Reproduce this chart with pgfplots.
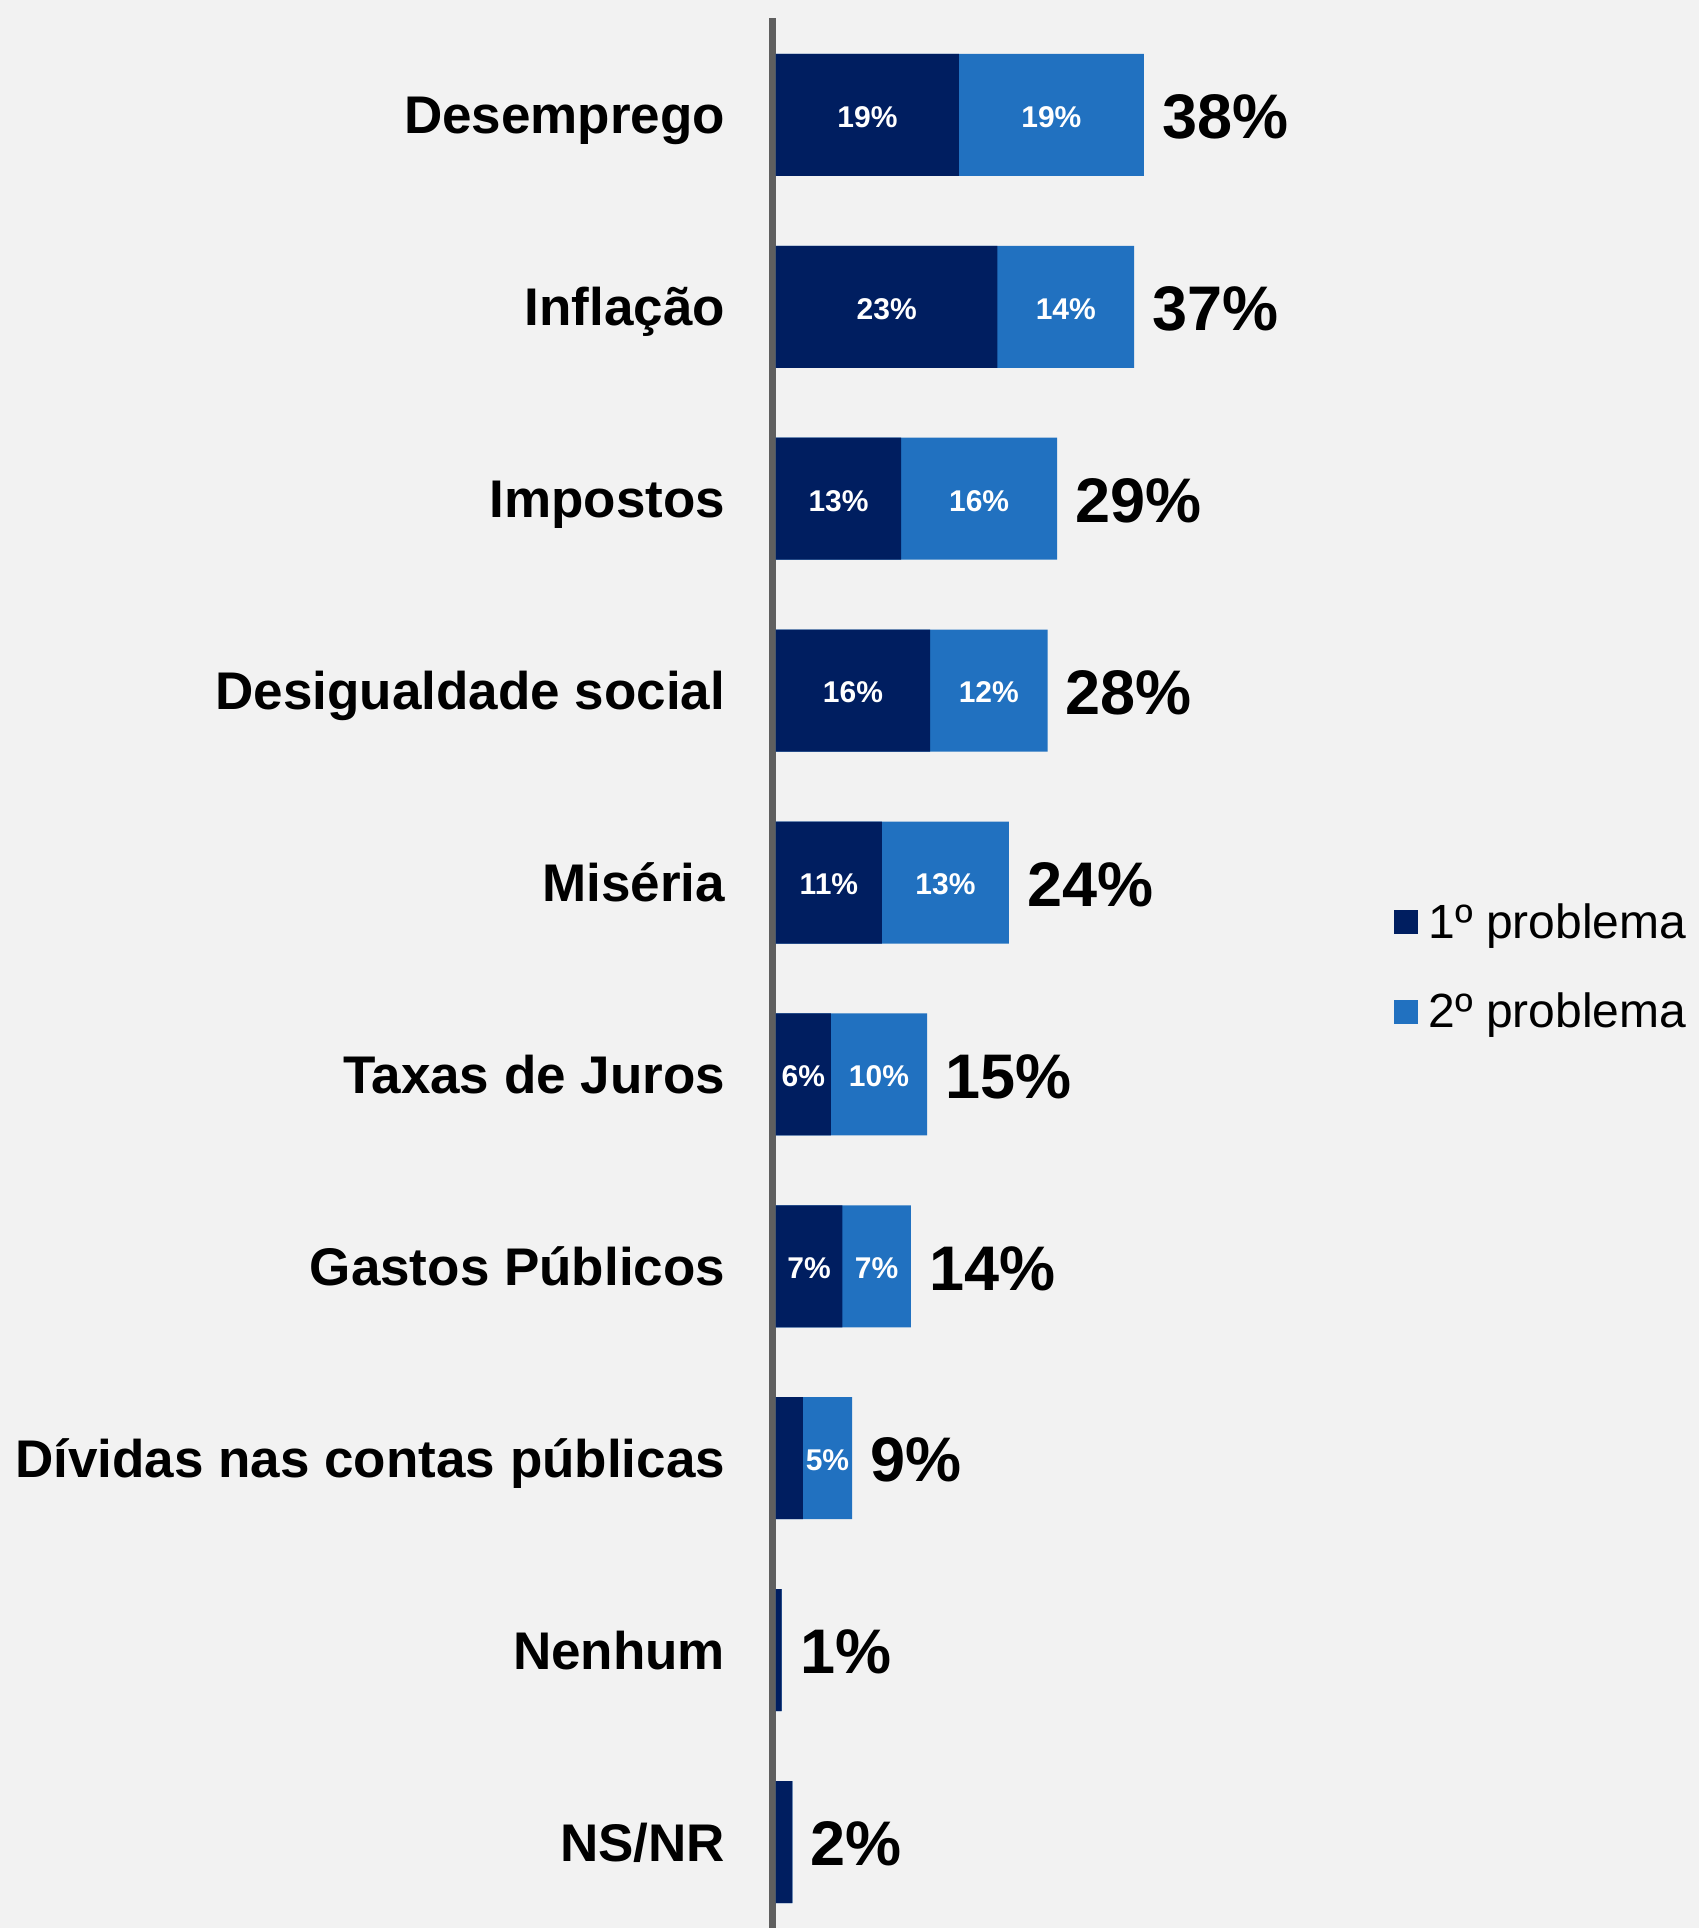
\documentclass[border=0pt]{standalone}
\usepackage{pgfplots}
\pgfplotsset{compat=1.18}
\usepackage{pgfplotstable}
\usepackage{fontspec}
\setmainfont{Liberation Sans}
\usetikzlibrary{backgrounds}
\definecolor{dark}{HTML}{001E60}
\definecolor{light}{HTML}{2171C0}
\definecolor{axgray}{HTML}{5F5F5F}
\definecolor{bgc}{HTML}{F2F2F2}

\pgfplotstableread{
idx v1  v2   l1 l2 tl
0   19  19.2 19 19 38
1   23  14.2 23 14 37
2   13  16.2 13 16 29
3   16  12.2 16 12 28
4   11  13.2 11 13 24
5   5.7 10.0 6  10 15
6   6.9 7.1  7  7  14
7   2.8 5.1  0  5  9
8   0.6 0    0  0  1
9   1.7 0    0  0  2
}\data

\begin{document}
\begin{tikzpicture}
\begin{axis}[
  name=ax,
  scale only axis,
  width=463.25pt, height=955pt,
  xmin=-0.36, xmax=95.85,
  ymin=-0.505, ymax=9.448,
  y dir=reverse,
  hide x axis,
  axis y line*=left,
  y axis line style={draw=axgray, line width=3.6pt},
  ytick={0,...,9},
  yticklabels={Desemprego, Inflação, Impostos, Desigualdade social, Miséria, Taxas de Juros, Gastos Públicos, Dívidas nas contas públicas, Nenhum, NS/NR},
  major tick length=0pt,
  yticklabel style={font=\fontsize{26.5}{30}\selectfont\bfseries, inner sep=0pt, anchor=base east, xshift=-23.5pt, yshift=-9.5pt},
  clip=false,
  legend image code/.code={\fill[#1] (0pt,-6pt) rectangle (12pt,6pt);},
  legend style={at={(rel axis cs:0.6635,0.5)}, anchor=west, yshift=3pt, draw=none, fill=none,
    font=\fontsize{24}{28}\selectfont, row sep=26pt, column sep=5.5pt,
    nodes={inner sep=0pt}},
  legend cell align=left,
]
\addlegendimage{fill=dark, draw=none}
\addlegendentry{1º problema}
\addlegendimage{fill=light, draw=none}
\addlegendentry{2º problema}

\addplot[xbar, bar width=61pt, bar shift=0pt, fill=light, draw=none, forget plot]
  table[x expr=\thisrow{v1}+\thisrow{v2}, y=idx]{\data};
\addplot[xbar, bar width=61pt, bar shift=0pt, fill=dark, draw=none, forget plot]
  table[x=v1, y=idx]{\data};

% labels inside dark bars
\addplot[draw=none, mark=none, forget plot, skip coords between index={7}{10},
  point meta=explicit symbolic,
  nodes near coords={\pgfplotspointmeta\%},
  nodes near coords align={center},
  nodes near coords style={font=\fontsize{15}{18}\selectfont\bfseries, text=white, inner sep=0pt, yshift=-1pt}]
  table[x expr=\thisrow{v1}/2, y=idx, meta=l1]{\data};
% labels inside light bars
\addplot[draw=none, mark=none, forget plot, skip coords between index={8}{10},
  point meta=explicit symbolic,
  nodes near coords={\pgfplotspointmeta\%},
  nodes near coords align={center},
  nodes near coords style={font=\fontsize{15}{18}\selectfont\bfseries, text=white, inner sep=0pt, yshift=-1pt}]
  table[x expr=\thisrow{v1}+\thisrow{v2}/2, y=idx, meta=l2]{\data};
% totals
\addplot[draw=none, mark=none, forget plot,
  point meta=explicit symbolic,
  nodes near coords={\pgfplotspointmeta\%},
  nodes near coords align={west},
  nodes near coords style={font=\fontsize{31.5}{36}\selectfont\bfseries, text=black, inner sep=0pt, xshift=9pt, yshift=-1pt}]
  table[x expr=\thisrow{v1}+\thisrow{v2}, y=idx, meta=tl]{\data};
\end{axis}
\begin{pgfonlayer}{background}
\fill[bgc] ([xshift=-386.25pt,yshift=9pt]ax.north west) rectangle (ax.south east);
\end{pgfonlayer}
\pgfresetboundingbox
\path ([xshift=-386.25pt,yshift=9pt]ax.north west) rectangle (ax.south east);
\end{tikzpicture}
\end{document}
